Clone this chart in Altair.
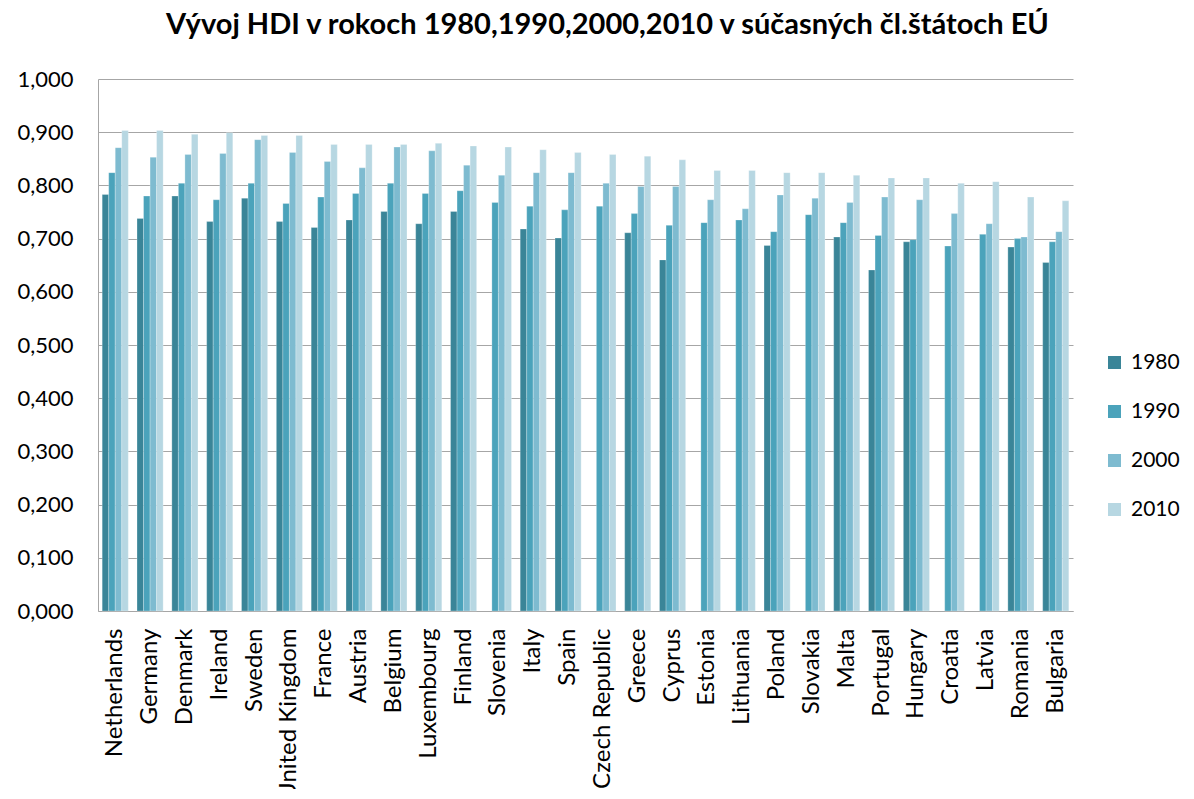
import altair as alt
import pandas as pd

countries = ["Netherlands", "Germany", "Denmark", "Ireland", "Sweden", "United Kingdom", "France",
             "Austria", "Belgium", "Luxembourg", "Finland", "Slovenia", "Italy", "Spain",
             "Czech Republic", "Greece", "Cyprus", "Estonia", "Lithuania", "Poland", "Slovakia",
             "Malta", "Portugal", "Hungary", "Croatia", "Latvia", "Romania", "Bulgaria"]
years = ["1980", "1990", "2000", "2010"]
v1980 = [0.783, 0.738, 0.780, 0.732, 0.776, 0.732, 0.721, 0.735, 0.751, 0.728, 0.751, None, 0.718, 0.701,
         None, 0.711, 0.660, None, None, 0.687, None, 0.703, 0.641, 0.694, None, None, 0.684, 0.655]
v1990 = [0.824, 0.780, 0.804, 0.773, 0.804, 0.766, 0.778, 0.785, 0.804, 0.785, 0.790, 0.768, 0.761, 0.754,
         0.761, 0.747, 0.725, 0.730, 0.735, 0.713, 0.745, 0.730, 0.706, 0.698, 0.686, 0.708, 0.700, 0.694]
v2000 = [0.871, 0.853, 0.858, 0.860, 0.886, 0.862, 0.845, 0.833, 0.872, 0.865, 0.838, 0.819, 0.824, 0.824,
         0.804, 0.798, 0.798, 0.773, 0.756, 0.782, 0.776, 0.768, 0.778, 0.773, 0.747, 0.728, 0.703, 0.713]
v2010 = [0.903, 0.903, 0.896, 0.899, 0.894, 0.894, 0.877, 0.877, 0.877, 0.879, 0.874, 0.872, 0.867, 0.862,
         0.858, 0.855, 0.848, 0.828, 0.828, 0.824, 0.824, 0.819, 0.814, 0.814, 0.804, 0.807, 0.778, 0.771]
colors = ["#3A8598", "#4BA3BB", "#7EBBD0", "#B7D7E2"]

rows = []
for y, vals in zip(years, [v1980, v1990, v2000, v2010]):
    for c, v in zip(countries, vals):
        if v is not None:
            rows.append({"country": c, "year": y, "hdi": v})
df = pd.DataFrame(rows)

FONT = "Lato"

chart = alt.Chart(df).mark_bar(stroke="white", strokeWidth=0.5, strokeOpacity=0.5).encode(
    x=alt.X("country:N", sort=countries,
            scale=alt.Scale(paddingInner=0.25, paddingOuter=0.12),
            axis=alt.Axis(title=None, labelAngle=-90, labelAlign="right", labelBaseline="middle",
                          labelFontSize=24, labelFont=FONT, labelColor="#000000", labelPadding=17,
                          ticks=False, domainColor="#A6A6A6", labelLimit=0)),
    xOffset=alt.XOffset("year:N", scale=alt.Scale(domain=years)),
    y=alt.Y("hdi:Q", scale=alt.Scale(domain=[0, 1], nice=False),
            axis=alt.Axis(title=None, values=[i / 10 for i in range(11)],
                          labelExpr="replace(format(datum.value, '.3f'), '.', ',')",
                          labelFontSize=22, labelFont=FONT, labelColor="#000000", labelPadding=25,
                          ticks=False, domainColor="#A6A6A6", gridColor="#A6A6A6", gridWidth=1)),
    color=alt.Color("year:N", scale=alt.Scale(domain=years, range=colors),
                    legend=alt.Legend(title=None, orient="none", legendX=1006, legendY=273,
                                      symbolType="square", symbolSize=170, symbolStrokeWidth=0,
                                      labelFontSize=21, labelFont=FONT, labelColor="#000000",
                                      rowPadding=27, labelOffset=6)),
).properties(
    width=975, height=532,
    title=alt.TitleParams("Vývoj HDI v rokoch 1980,1990,2000,2010 v súčasných čl.štátoch EÚ",
                          font=FONT, fontSize=29, fontWeight="bold", color="#000000",
                          anchor="middle", offset=28, dx=22),
    autosize=alt.AutoSizeParams(type="none"),
    padding={"left": 90, "top": 71, "right": 113, "bottom": 178},
).configure_view(stroke=None)

chart.save("out.html", embed_options={"renderer": "svg", "actions": False})
